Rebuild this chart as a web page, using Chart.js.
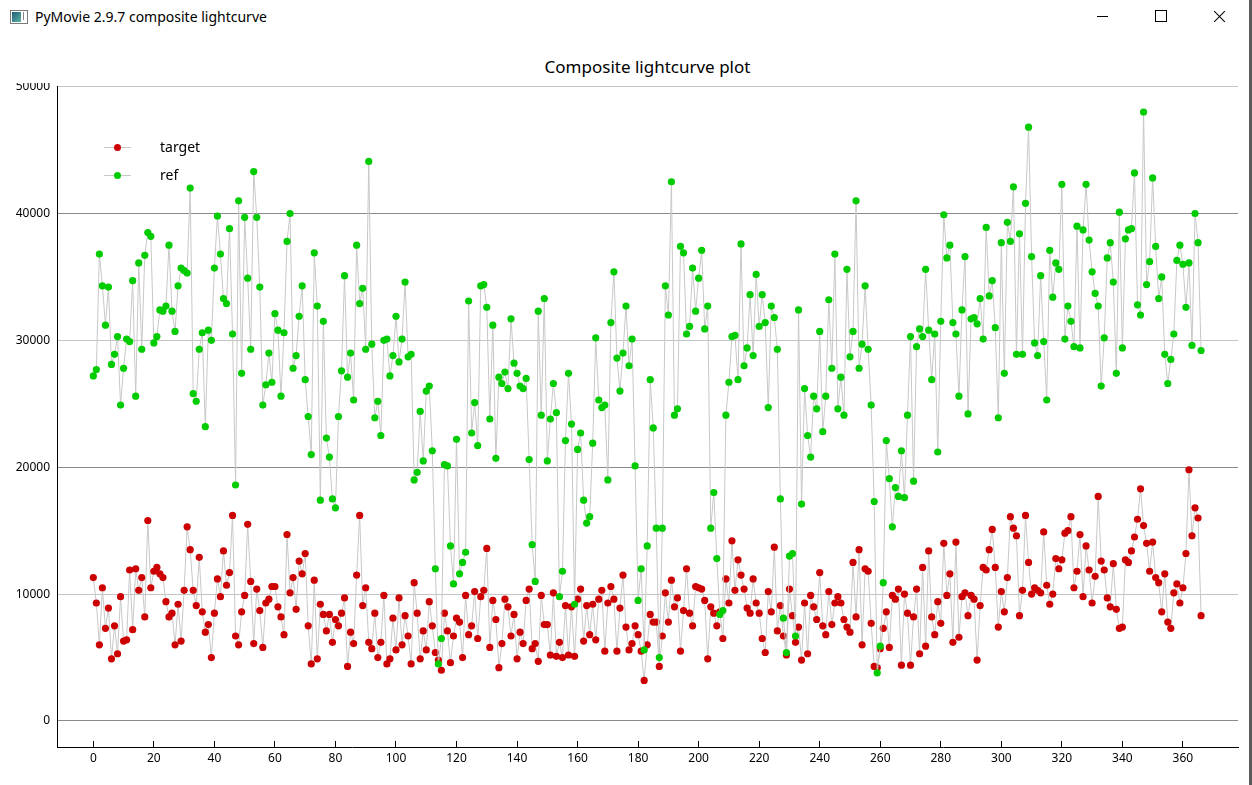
<!DOCTYPE html>
<html>
<head>
<meta charset="utf-8">
<script src="https://cdn.jsdelivr.net/npm/chart.js@4.4.1/dist/chart.umd.min.js"></script>
<style>
  html, body { margin: 0; padding: 0; background: #fff; }
  body { width: 1252px; height: 785px; position: relative; overflow: hidden; font-family: "Noto Sans", sans-serif; }
  #titlebar { position: absolute; left: 0; top: 0; width: 1250px; height: 32px; background: #fff; }
  #wintitle { position: absolute; left: 35px; top: 7px; font-size: 14px; color: #000; white-space: nowrap; }
  #icon { position: absolute; left: 10px; top: 10px; width: 16px; height: 12px; border: 1px solid #7a7a7a; background: #fff; }
  #icon .l { position: absolute; left: 1px; top: 1px; width: 9px; height: 10px; background: linear-gradient(135deg, #1f5e7a, #5fb3a0); }
  #icon .r { position: absolute; left: 12px; top: 1px; width: 1px; height: 8px; background: #888; }
  .btn-min { position: absolute; left: 1097px; top: 16px; width: 11px; height: 1px; background: #000; }
  .btn-max { position: absolute; left: 1155px; top: 10px; width: 10px; height: 10px; border: 1px solid #000; }
  .btn-x1, .btn-x2 { position: absolute; left: 1212px; top: 16px; width: 15px; height: 1px; background: #000; }
  .btn-x1 { transform: rotate(45deg); }
  .btn-x2 { transform: rotate(-45deg); }
  #edge { position: absolute; left: 1249px; top: 0; width: 3px; height: 785px; background: #5a5a5a; }
  #plottitle { position: absolute; left: 0; width: 1295px; top: 55px; text-align: center; font-size: 17px; color: #000; }
  #wrap { position: absolute; left: 0; top: 83px; width: 1248px; height: 702px; }
  .leg { position: absolute; left: 104px; width: 27px; height: 1px; background: #c8c8c8; }
  .leg .dot { position: absolute; left: 10px; top: -3px; width: 7px; height: 7px; border-radius: 50%; }
  .legtxt { position: absolute; left: 160px; font-size: 14px; color: #000; }
</style>
</head>
<body>
<div id="titlebar">
  <div id="icon"><div class="l"></div><div class="r"></div></div>
  <div id="wintitle">PyMovie 2.9.7 composite lightcurve</div>
  <div class="btn-min"></div>
  <div class="btn-max"></div>
  <div class="btn-x1"></div><div class="btn-x2"></div>
</div>
<div id="plottitle">Composite lightcurve plot</div>
<div id="wrap"><canvas id="c" width="1248" height="702"></canvas></div>
<div class="leg" style="top:147px"><div class="dot" style="background:#cc0000"></div></div>
<div class="legtxt" style="top:137px">target</div>
<div class="leg" style="top:175px"><div class="dot" style="background:#00cc00"></div></div>
<div class="legtxt" style="top:165px">ref</div>
<div id="edge"></div>
<script>
// target series (red), frame 0..366
const target = [
  11300, 9300, 6000, 10500, 7300, 8900, 4900, 7500, 5300, 9800,
  6300, 6400, 11900, 7200, 12000, 10300, 11300, 8200, 15800, 10500,
  11800, 12100, 11600, 11300, 9400, 8200, 8500, 6000, 9200, 6300,
  10300, 15300, 13500, 10300, 9100, 12900, 8600, 7000, 7600, 5000,
  8500, 11200, 9800, 13400, 10700, 11700, 16200, 6700, 6000, 8600,
  9900, 15500, 11000, 6100, 10400, 8700, 5800, 9300, 9600, 10600,
  10600, 9000, 8200, 6800, 14700, 10100, 11300, 8800, 12600, 11600,
  13200, 7500, 4500, 11100, 4900, 9200, 8400, 7100, 8400, 6200,
  8000, 7500, 8500, 9700, 4300, 7000, 6100, 11500, 16200, 9100,
  10500, 6200, 5700, 8500, 5000, 6200, 9900, 4500, 4900, 8100,
  5600, 9700, 6000, 8300, 6700, 4500, 10900, 8500, 4900, 7100,
  5600, 9400, 7500, 5400, 4800, 4000, 8500, 7100, 4600, 6700,
  8100, 7800, 5000, 9900, 6800, 7500, 10200, 6500, 9800, 10300,
  13600, 5800, 9500, 8000, 4200, 6100, 9600, 9000, 6700, 8400,
  4900, 7000, 6100, 9500, 10400, 5700, 6100, 4700, 9900, 7600,
  7600, 5200, 10100, 5100, 6200, 5000, 9100, 5200, 9000, 5100,
  9600, 10400, 6300, 9100, 6800, 9200, 6400, 9600, 10300, 5500,
  9300, 10600, 9600, 5500, 8900, 11500, 7400, 5600, 6100, 7500,
  6800, 5500, 3200, 6000, 8400, 7800, 7800, 4300, 6700, 10100,
  7800, 11100, 9000, 9700, 5500, 8700, 12000, 8500, 7500, 10600,
  10500, 10400, 9500, 4900, 9000, 8500, 7500, 8600, 6500, 11200,
  9300, 14200, 10300, 12700, 11500, 10400, 8900, 8500, 11200, 9300,
  8500, 6500, 5400, 10200, 8600, 13700, 7100, 9100, 6700, 5200,
  10400, 8300, 6200, 7400, 4800, 9300, 5300, 9900, 9000, 8000,
  11700, 7500, 6800, 10200, 7600, 9300, 9800, 9300, 8000, 7400,
  7000, 12500, 8200, 13500, 6000, 12000, 11800, 7700, 4300, 4200,
  5700, 7300, 8600, 5800, 9900, 9600, 10400, 4400, 10000, 8500,
  4400, 8200, 10400, 5300, 12100, 5900, 13400, 8200, 6800, 9400,
  7700, 14000, 9900, 11600, 6200, 14100, 6600, 9800, 10100, 8300,
  9900, 9600, 4800, 9100, 12100, 11900, 13500, 15100, 12100, 7400,
  10200, 8600, 11300, 16100, 15200, 14600, 8300, 10300, 16200, 12500,
  10000, 10500, 10300, 10100, 14900, 10700, 9200, 10000, 12800, 12000,
  12700, 14800, 15000, 16100, 10500, 11800, 14700, 9800, 13800, 11900,
  9300, 11400, 17700, 12600, 11900, 9700, 9000, 12400, 8800, 7300,
  7400, 12700, 12500, 13400, 14500, 15900, 18300, 15400, 14000, 11800,
  14100, 11300, 10900, 8600, 11600, 7800, 7300, 10100, 10800, 9300,
  10500, 13200, 19800, 14600, 16800, 16000, 8300
];
// ref series (green), frame 0..366
const ref = [
  27200, 27700, 36800, 34300, 31200, 34200, 28100, 28900, 30300, 24900,
  27800, 30100, 29900, 34700, 25600, 36100, 29300, 36700, 38500, 38200,
  29800, 30300, 32400, 32300, 32700, 37500, 32300, 30700, 34300, 35700,
  35500, 35300, 42000, 25800, 25200, 29300, 30600, 23200, 30800, 30000,
  35700, 39800, 36800, 33300, 32900, 38800, 30500, 18600, 41000, 27400,
  39700, 34900, 29300, 43300, 39700, 34200, 24900, 26500, 29000, 26700,
  32100, 30800, 25600, 30600, 37800, 40000, 27800, 28800, 31900, 34300,
  26900, 24000, 21000, 36900, 32700, 17400, 31500, 22300, 20800, 17500,
  16800, 24000, 27600, 35100, 27100, 29000, 25300, 37500, 32900, 34100,
  29300, 44100, 29700, 23900, 25200, 22500, 30000, 30100, 27200, 28800,
  31900, 28300, 30100, 34600, 28700, 28900, 19000, 19600, 24400, 20500,
  26000, 26400, 21300, 12000, 4500, 6500, 20200, 20100, 13800, 10800,
  22200, 11600, 12500, 13300, 33100, 22700, 25100, 21700, 34300, 34400,
  32600, 23800, 31200, 20700, 27100, 26600, 27500, 26200, 31700, 28200,
  27400, 26400, 26200, 27000, 20600, 13900, 11000, 32300, 24100, 33300,
  20500, 23800, 26600, 24300, 9800, 11800, 22100, 27400, 23400, 9200,
  21400, 22700, 17400, 15600, 16100, 21900, 30200, 25300, 24700, 24900,
  19000, 31400, 35400, 28600, 26000, 29000, 32700, 28000, 30100, 20100,
  9500, 12000, 5600, 13800, 26900, 23100, 15200, 5000, 15200, 34300,
  32000, 42500, 24100, 24600, 37400, 36900, 30500, 31100, 35700, 32300,
  34900, 37100, 30900, 32700, 15200, 18000, 12800, 8400, 8700, 24100,
  26700, 30300, 30400, 26900, 37600, 28000, 29400, 33600, 28800, 35200,
  31100, 33600, 31400, 24700, 32700, 31800, 29300, 17500, 8100, 5400,
  13000, 13200, 6700, 32400, 17100, 26200, 22500, 20800, 25600, 24600,
  30700, 22800, 25600, 33200, 27800, 36800, 24600, 27100, 24100, 35600,
  28700, 30700, 41000, 27800, 29700, 34300, 29300, 24900, 17300, 3800,
  5900, 10900, 22100, 19100, 15300, 18400, 17700, 21300, 17600, 24100,
  30300, 18900, 29500, 30900, 30300, 35600, 30800, 26900, 30500, 21200,
  31500, 39900, 36500, 37500, 31400, 30500, 25600, 32400, 36600, 24200,
  31700, 31800, 31300, 33300, 30100, 38900, 33500, 34700, 31000, 23900,
  37700, 27400, 39300, 37800, 42100, 28900, 38400, 28900, 40800, 46800,
  36600, 29800, 28800, 35100, 29900, 25300, 37100, 33400, 36100, 35600,
  42300, 30100, 32700, 31500, 29500, 39000, 29400, 38700, 42300, 37900,
  35400, 33700, 32700, 26400, 30200, 36500, 37700, 34600, 27400, 40100,
  29400, 38000, 38700, 38800, 43200, 32800, 32000, 48000, 34400, 36200,
  42800, 37400, 33300, 35000, 28900, 26600, 28500, 30500, 36300, 37500,
  36000, 32600, 36100, 29600, 40000, 37700, 29200
];
const frames = target.map((_, i) => i);
const xTicks = [0, 20, 40, 60, 80, 100, 120, 140, 160, 180, 200, 220, 240, 260, 280, 300, 320, 340, 360];
const yTicks = [0, 10000, 20000, 30000, 40000, 50000];

const toPts = arr => arr.map((v, i) => ({ x: frames[i], y: v }));

const base = {
  showLine: true,
  borderColor: '#c8c8c8',
  borderWidth: 1,
  pointRadius: 3.6,
  pointHoverRadius: 3.6,
  pointBorderWidth: 0,
  tension: 0,
  fill: false
};

new Chart(document.getElementById('c'), {
  type: 'line',
  data: {
    datasets: [
      Object.assign({ label: 'ref', data: toPts(ref), pointBackgroundColor: '#00cc00', pointBorderColor: '#00cc00' }, base),
      Object.assign({ label: 'target', data: toPts(target), pointBackgroundColor: '#cc0000', pointBorderColor: '#cc0000' }, base)
    ]
  },
  options: {
    responsive: false,
    animation: false,
    events: [],
    layout: { padding: { top: 3, right: 10, left: 0, bottom: 0 } },
    plugins: { legend: { display: false }, title: { display: false }, tooltip: { enabled: false } },
    scales: {
      x: {
        type: 'linear',
        min: -12,
        max: 378.2,
        afterBuildTicks: s => { s.ticks = xTicks.map(v => ({ value: v })); },
        afterFit: s => { s.height = 38; s.paddingLeft = 0; s.paddingRight = 0; },
        ticks: {
          color: '#000',
          padding: 10,
          maxRotation: 0,
          autoSkip: false,
          font: { family: 'Noto Sans', size: 12 },
          callback: v => String(v)
        },
        grid: { drawOnChartArea: false, drawTicks: true, tickLength: -6, color: '#000', lineWidth: 1 },
        border: { display: true, color: '#000', width: 1 }
      },
      y: {
        type: 'linear',
        min: -2050,
        max: 50000,
        afterBuildTicks: s => { s.ticks = yTicks.map(v => ({ value: v })); },
        afterFit: s => { s.width = 57; s.paddingTop = 0; s.paddingBottom = 0; },
        ticks: {
          color: '#000',
          padding: 7,
          autoSkip: false,
          font: { family: 'Noto Sans', size: 12 },
          callback: v => String(v)
        },
        grid: {
          drawTicks: false,
          color: c => (c.tick && c.tick.value % 20000 === 0) ? '#8a8a8a' : '#c4c4c4',
          lineWidth: 1
        },
        border: { display: true, color: '#000', width: 1 }
      }
    }
  }
});
</script>
</body>
</html>
